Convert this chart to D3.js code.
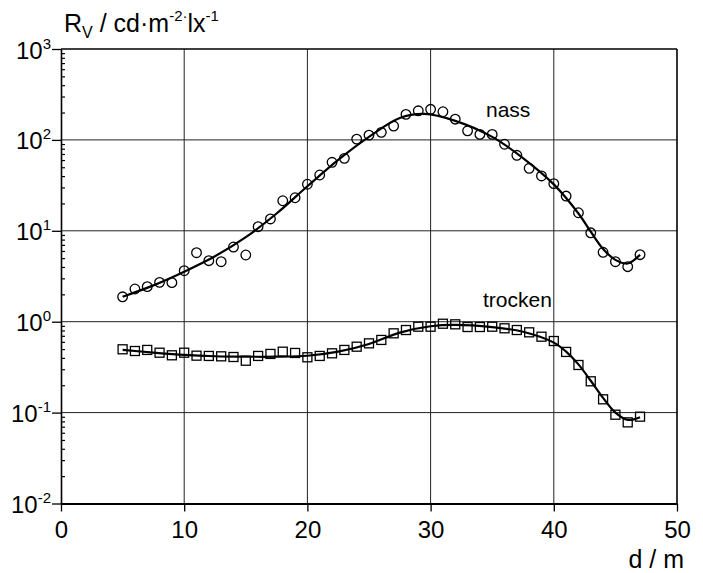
<!DOCTYPE html>
<html><head><meta charset="utf-8">
<script src="https://cdn.jsdelivr.net/npm/d3@7"></script>
<style>
html,body{margin:0;padding:0;background:#fff;}
text{font-family:"Liberation Sans",Arial,Helvetica,sans-serif;fill:#000;}
</style></head>
<body><svg id="c" width="703" height="573"></svg>
<script>
// distances d / m
const distances = d3.range(5, 48);
// measured points, wet ("nass")
const nassValues = [1.88,2.29,2.43,2.71,2.69,3.64,5.74,4.69,4.57,6.63,
  5.42,11.1,13.5,21.4,23.1,32.5,41.1,56.7,62.7,102,
  113,121,142,191,209,217,204,169,126,115,
  115,89.6,67.7,48.7,40.1,33.0,24.1,15.8,9.5,5.8,
  4.57,4.03,5.46];
// measured points, dry ("trocken")
const trockenValues = [0.497,0.476,0.489,0.456,0.427,0.456,0.423,0.420,0.416,0.409,
  0.372,0.420,0.442,0.468,0.453,0.406,0.420,0.449,0.489,0.531,
  0.578,0.630,0.745,0.810,0.881,0.881,0.950,0.936,0.874,0.874,
  0.881,0.846,0.810,0.764,0.684,0.613,0.465,0.334,0.221,0.140,
  0.0948,0.0781,0.0902];
// fitted curves
const nassFitD = [5,7.5,10,12.5,15,17.5,20,22.5,25,27.5,29.5,32,35,37.5,40,42,43,44,45,46,47];
const nassFitV = [1.88,2.51,3.55,5.25,8.51,15.5,30.9,60.3,108,174,193,162,108,63.1,32.4,15.5,9.77,6.31,4.79,4.37,5.46];
const trockenFitD = [5,7.5,10,12.5,15,17.5,20,22.5,25,27.5,30,32,35,37.5,40,41,42,43,44,45,46,47];
const trockenFitV = [0.490,0.457,0.431,0.417,0.412,0.412,0.422,0.468,0.569,0.759,0.891,0.923,0.871,0.776,0.589,0.468,0.339,0.224,0.145,0.100,0.0832,0.0891];
// ticks
const xTicks = [0,10,20,30,40,50];
const yTicks = [1e-2,1e-1,1e0,1e1,1e2,1e3];
const yExponents = ["-2","-1","0","1","2","3"];

const svg = d3.select("#c");
const L = 61, R = 677, T = 49, B = 503.5;
const x = d3.scaleLinear().domain([0,50]).range([L,R]);
const y = d3.scaleLog().domain([1e-2,1e3]).range([B,T]);

// grid
const grid = svg.append("g").attr("stroke","#222").attr("stroke-width",1);
grid.selectAll("line.gx").data(xTicks.slice(1,-1)).join("line")
  .attr("x1",d=>x(d)).attr("x2",d=>x(d)).attr("y1",T).attr("y2",B);
grid.selectAll("line.gy").data(yTicks.slice(1,-1)).join("line")
  .attr("y1",d=>y(d)).attr("y2",d=>y(d)).attr("x1",L).attr("x2",R);

// minor ticks on left, inside
const minor = [];
for (let e=-2;e<3;e++) for (let m=2;m<=9;m++) minor.push(m*Math.pow(10,e));
svg.append("g").attr("transform",`translate(${L},0)`)
  .call(d3.axisRight(y).tickValues(minor).tickSize(4).tickFormat(""))
  .call(g=>g.select(".domain").remove())
  .call(g=>g.selectAll("line").attr("stroke-width",1.2));

// x axis
const xa = svg.append("g").attr("transform",`translate(0,${B})`)
  .call(d3.axisBottom(x).tickValues(xTicks).tickSize(8).tickSizeOuter(0).tickPadding(9).tickFormat(d3.format("d")));
xa.select(".domain").attr("stroke-width",2);
xa.selectAll("line").attr("stroke-width",1.3);
xa.selectAll("text").attr("font-size",24).attr("font-family",null);

// y axis
const ya = svg.append("g").attr("transform",`translate(${L},0)`)
  .call(d3.axisLeft(y).tickValues(yTicks).tickSize(9).tickSizeOuter(0).tickPadding(0).tickFormat(""));
ya.select(".domain").attr("stroke-width",1.6);
ya.selectAll("line").attr("stroke-width",1.3);
ya.selectAll(".tick").each(function(d,i){
  const t = d3.select(this).append("text").attr("x",-10).attr("y",9)
    .attr("text-anchor","end").attr("font-size",24);
  t.append("tspan").text("10");
  t.append("tspan").attr("font-size",15).attr("dy",-10).text(yExponents[i]);
});

// frame top/right
svg.append("line").attr("x1",L).attr("x2",R).attr("y1",T).attr("y2",T).attr("stroke","#000").attr("stroke-width",1.6);
svg.append("line").attr("x1",R).attr("x2",R).attr("y1",T).attr("y2",B).attr("stroke","#000").attr("stroke-width",1.6);

// curves
const line = d3.line().x(d=>x(d[0])).y(d=>y(d[1])).curve(d3.curveCatmullRom.alpha(0.5));
svg.append("path").datum(nassFitD.map((d,i)=>[d,nassFitV[i]]))
  .attr("d",line).attr("fill","none").attr("stroke","#000").attr("stroke-width",2.2);
svg.append("path").datum(trockenFitD.map((d,i)=>[d,trockenFitV[i]]))
  .attr("d",line).attr("fill","none").attr("stroke","#000").attr("stroke-width",2.2);

// markers
svg.append("g").selectAll("circle").data(distances.map((d,i)=>[d,nassValues[i]])).join("circle")
  .attr("cx",d=>x(d[0])).attr("cy",d=>y(d[1])).attr("r",4.8)
  .attr("fill","none").attr("stroke","#000").attr("stroke-width",1.3);
const s = 9;
svg.append("g").selectAll("rect").data(distances.map((d,i)=>[d,trockenValues[i]])).join("rect")
  .attr("x",d=>x(d[0])-s/2).attr("y",d=>y(d[1])-s/2).attr("width",s).attr("height",s)
  .attr("fill","none").attr("stroke","#000").attr("stroke-width",1.3);

// labels
svg.append("text").attr("x",486).attr("y",117).attr("font-size",21).text("nass");
svg.append("text").attr("x",483).attr("y",307).attr("font-size",21).text("trocken");
svg.append("text").attr("x",684).attr("y",568).attr("text-anchor","end").attr("font-size",25).text("d / m");

const title = svg.append("text").attr("x",64).attr("y",32).attr("font-size",25);
title.append("tspan").text("R");
title.append("tspan").attr("font-size",16).attr("dy",6).text("V");
title.append("tspan").attr("dy",-6).text(" / cd\u00B7m");
title.append("tspan").attr("font-size",15).attr("dy",-11).text("-2\u00B7");
title.append("tspan").attr("dy",11).text("lx");
title.append("tspan").attr("font-size",15).attr("dy",-11).text("-1");
</script></body></html>
